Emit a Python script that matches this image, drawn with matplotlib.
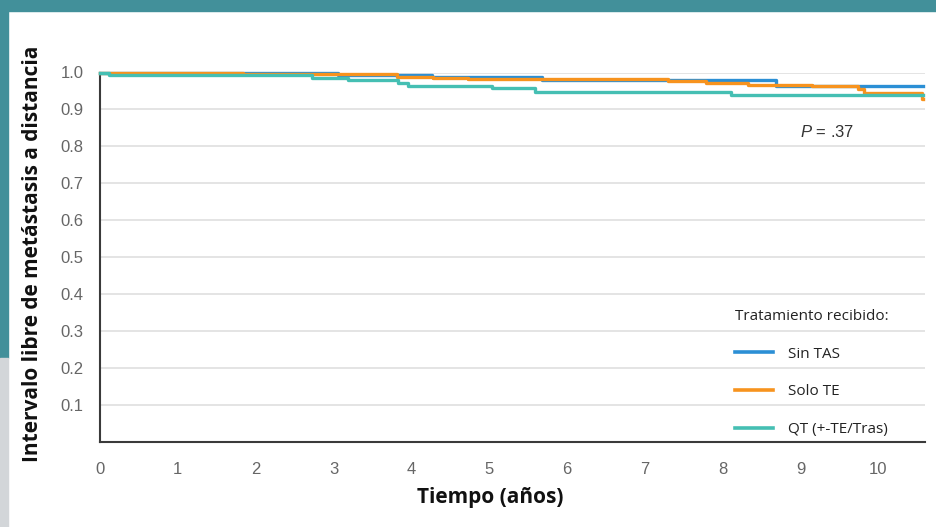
import matplotlib
matplotlib.use("Agg")
import matplotlib.pyplot as plt
from matplotlib.patches import Rectangle
from matplotlib.lines import Line2D

# ---------------- data ----------------
sin_tas_t = [0, 3.06, 4.27, 5.68, 8.68, 10.57]
sin_tas_v = [1.0, 0.994, 0.987, 0.980, 0.964, 0.964]

solo_te_t = [0, 1.84, 3.82, 4.28, 4.73, 7.30, 7.78, 8.32, 9.15, 9.74, 9.81, 10.56, 10.57]
solo_te_v = [1.0, 0.995, 0.989, 0.985, 0.982, 0.976, 0.972, 0.967, 0.964, 0.955, 0.945, 0.927, 0.927]

qt_t = [0, 0.12, 2.73, 3.19, 3.83, 3.96, 5.04, 5.59, 8.11, 10.57]
qt_v = [1.0, 0.994, 0.984, 0.979, 0.971, 0.964, 0.957, 0.948, 0.939, 0.939]

series_labels = ["Sin TAS", "Solo TE", "QT (+-TE/Tras)"]
series_colors = ["#2b8fd5", "#f7931e", "#45bfb3"]

x_ticks = list(range(0, 11))
y_ticks = [0.1, 0.2, 0.3, 0.4, 0.5, 0.6, 0.7, 0.8, 0.9, 1.0]

# ---------------- style ----------------
plt.rcParams['mathtext.fontset'] = 'custom'
plt.rcParams['mathtext.it'] = 'Liberation Sans:italic'
plt.rcParams['mathtext.rm'] = 'Liberation Sans'

W, H = 936, 527
fig = plt.figure(figsize=(W / 100, H / 100), dpi=100)
fig.patch.set_facecolor("white")

# decorative frame pieces
teal = "#42909a"
fig.patches.append(Rectangle((0, 1 - 11 / H), 1, 11 / H, transform=fig.transFigure,
                             color=teal, zorder=0))
fig.patches.append(Rectangle((0, (H - 358) / H), 8 / W, 358 / H, transform=fig.transFigure,
                             color=teal, zorder=0))
fig.patches.append(Rectangle((0, 0), 8 / W, (H - 358) / H, transform=fig.transFigure,
                             color="#d3d6d9", zorder=0))

ax = fig.add_axes([100 / W, 85 / H, 825 / W, (442 - 72.5) / H])
ax.set_xlim(0, 10.6)
ax.set_ylim(0, 1.0)

ax.set_yticks(y_ticks)
ax.set_yticklabels([f"{v:.1f}" for v in y_ticks])
ax.set_xticks(x_ticks)
ax.set_xticklabels([str(v) for v in x_ticks])
ax.yaxis.grid(True, color="#e2e2e2", linewidth=1.3)
ax.set_axisbelow(True)

for s in ["top", "right"]:
    ax.spines[s].set_visible(False)
for s in ["left", "bottom"]:
    ax.spines[s].set_color("#3a3a3a")
    ax.spines[s].set_linewidth(1.5)

ax.tick_params(axis="both", length=0, labelsize=12, labelcolor="#666666")
ax.tick_params(axis="y", pad=12)
ax.tick_params(axis="x", pad=14.5)
for lab in ax.get_xticklabels() + ax.get_yticklabels():
    lab.set_fontfamily("Liberation Sans")

lw = 2.4
ax.step(sin_tas_t, sin_tas_v, where="post", color=series_colors[0], lw=lw, zorder=3,
        clip_on=False)
ax.step(solo_te_t, solo_te_v, where="post", color=series_colors[1], lw=lw, zorder=4,
        clip_on=False)
ax.step(qt_t, qt_v, where="post", color=series_colors[2], lw=lw, zorder=5,
        clip_on=False)

handles = [Line2D([], [], color=c, lw=2.6) for c in series_colors]
leg = ax.legend(handles, series_labels, title="Tratamiento recibido:",
                loc="upper left", bbox_to_anchor=(727 / W, 1 - 301 / H),
                bbox_transform=fig.transFigure, frameon=False,
                prop={"family": "Open Sans", "size": 11},
                title_fontproperties={"family": "Open Sans", "size": 11},
                handlelength=2.5, handletextpad=1.0, labelspacing=1.5,
                alignment="left", borderpad=0)
for t in leg.get_texts():
    t.set_color("#222222")
leg.get_title().set_color("#222222")

fig.text(800 / W, 1 - 132 / H, r"$P$ = .37", family="Liberation Sans", fontsize=12,
         color="#333333", ha="left", va="center")

fig.text(33 / W, 1 - 254 / H, "Intervalo libre de metástasis a distancia",
         family="Open Sans", fontweight="bold", fontsize=15, rotation=90,
         ha="center", va="center", color="#111111")
fig.text(490 / W, 1 - 497 / H, "Tiempo (años)", family="Open Sans", fontweight="bold",
         fontsize=15, ha="center", va="center", color="#111111")

fig.savefig("out.png", dpi=100)
